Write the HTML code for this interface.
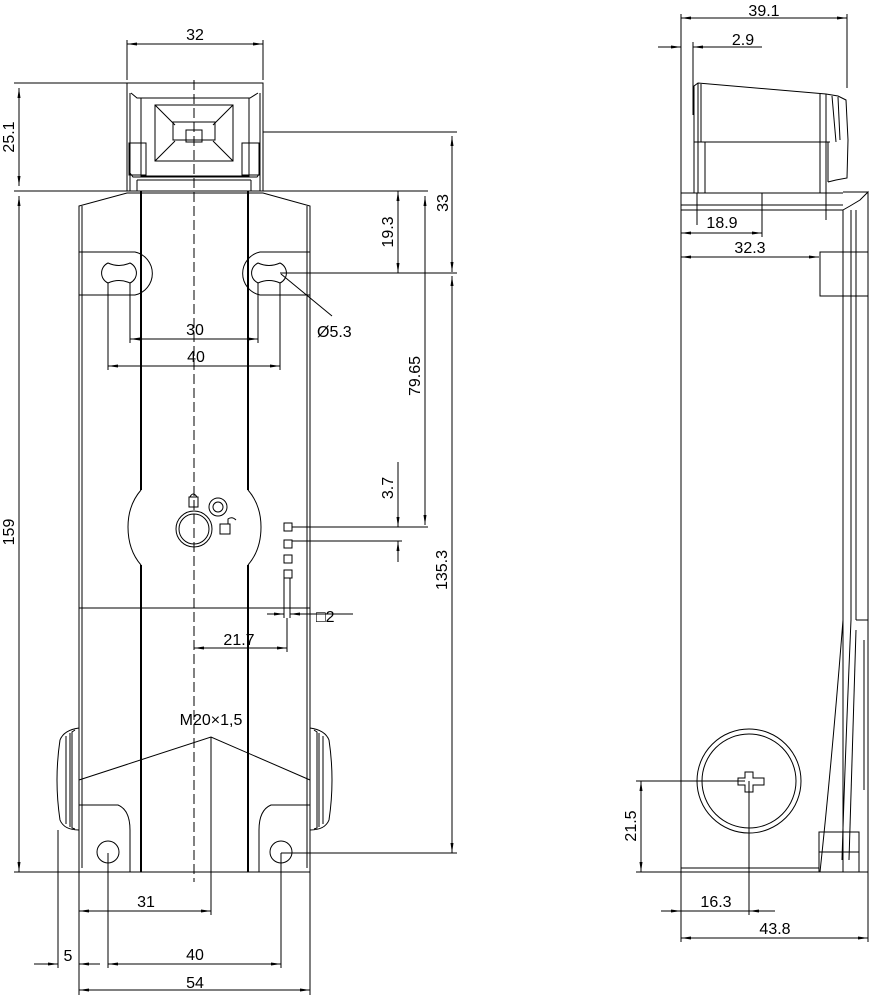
<!DOCTYPE html>
<html><head><meta charset="utf-8"><style>
html,body{margin:0;padding:0;background:#fff}
svg{display:block}
text{font-family:"Liberation Sans",sans-serif;font-size:16px;fill:#000}
</style></head><body>
<svg width="872" height="1000" viewBox="0 0 872 1000" xmlns="http://www.w3.org/2000/svg">
<defs>
<marker id="a" viewBox="0 0 10 4" refX="10" refY="2" markerWidth="10" markerHeight="4" orient="auto-start-reverse" markerUnits="userSpaceOnUse"><path d="M0,0.5L10,2L0,3.5z" fill="#000"/></marker>
</defs>
<g fill="none" stroke="#000" stroke-width="1">
<!-- LEFT VIEW -->
<rect x="127" y="83" width="136" height="108"/>
<line x1="130" y1="93" x2="130" y2="191"/><line x1="260" y1="93" x2="260" y2="191"/>
<path d="M131,93 L137,98 L250,98 L258,93"/>
<rect x="141" y="98" width="108" height="78"/>
<rect x="155" y="105" width="78" height="56"/>
<path d="M155,105 L175,125 M233,105 L213,125 M155,161 L175,141 M233,161 L213,141"/>
<path d="M173,122 L215,122 L215,140 L173,140 Z"/>
<rect x="186" y="130" width="16" height="12"/>
<rect x="129" y="143" width="17" height="32"/><rect x="242" y="143" width="17" height="32"/>
<path d="M130,173 L133,177 L257,177 L260,173"/>
<line x1="137" y1="180" x2="251" y2="180"/>
<line x1="137" y1="180" x2="137" y2="191"/><line x1="251" y1="180" x2="251" y2="191"/>
<!-- body -->
<path d="M79,872 L79,206 L127,193 L263,193 L310,206 L310,872 Z"/>
<line x1="82" y1="206" x2="82" y2="868"/><line x1="307" y1="206" x2="307" y2="868"/>
<line x1="141" y1="191" x2="141" y2="490" stroke-width="2"/><line x1="141" y1="565" x2="141" y2="872" stroke-width="2"/>
<line x1="248" y1="191" x2="248" y2="490" stroke-width="2"/><line x1="248" y1="565" x2="248" y2="872" stroke-width="2"/>
<path d="M141,490 Q128,505 128,527 Q128,550 141,565"/>
<path d="M248,490 Q261,505 261,527 Q261,550 248,565"/>
<path d="M79,252 L135,252 A22,22 0 0 1 135,295 L79,295"/>
<path d="M310,252 L260,252 A22,22 0 0 0 260,295 L310,295"/>
<path d="M108,263 A11,11 0 0 0 108,283 Q119,278 130,283 A11,11 0 0 0 130,263 Q119,268 108,263Z"/>
<path d="M258,263 A11,11 0 0 0 258,283 Q269,278 280,283 A11,11 0 0 0 280,263 Q269,268 258,263Z"/>
<line x1="79" y1="608" x2="310" y2="608"/>
<circle cx="194" cy="529" r="18"/><circle cx="194" cy="529" r="15"/>
<circle cx="218" cy="507" r="9"/><circle cx="218" cy="507" r="5"/>
<rect x="189" y="497" width="9" height="10"/><path d="M190,497 Q193,491 197,497"/>
<rect x="220" y="524" width="10" height="10"/><path d="M228,524 L228,519 Q232,516 236,520"/>
<rect x="284" y="523" width="8" height="8"/><rect x="284" y="540" width="8" height="8"/><rect x="284" y="555" width="8" height="8"/><rect x="284" y="570" width="8" height="8"/>
<line x1="284" y1="578" x2="284" y2="618"/><line x1="290" y1="578" x2="290" y2="618"/>
<path d="M79,728 Q64,730 60,740 Q54,780 60,820 Q64,830 79,830"/>
<path d="M75,730 L72,732 L72,828 L75,829 M70,733 L70,827 M66,736 L66,824"/>
<path d="M310,728 Q325,730 329,740 Q335,780 329,820 Q325,830 310,830"/>
<path d="M314,730 L317,732 L317,828 L314,829 M319,733 L319,827 M323,736 L323,824"/>
<path d="M79,805 L118,805 Q130,810 130,830 L130,872"/>
<path d="M310,805 L271,805 Q259,810 259,830 L259,872"/>
<circle cx="108" cy="852" r="11"/><circle cx="281" cy="852" r="11"/>
<line x1="194" y1="80" x2="194" y2="882" stroke-dasharray="10,4"/>
<path d="M79,780 L211,737 L310,780"/>
<!-- dims left -->
<line x1="127" y1="40" x2="127" y2="80"/><line x1="263" y1="40" x2="263" y2="80"/>
<line x1="127" y1="44" x2="263" y2="44" marker-start="url(#a)" marker-end="url(#a)"/>
<line x1="14" y1="83" x2="127" y2="83"/><line x1="14" y1="191" x2="127" y2="191"/>
<line x1="19" y1="88" x2="19" y2="186" marker-start="url(#a)" marker-end="url(#a)"/>
<line x1="19" y1="196" x2="19" y2="872" marker-start="url(#a)" marker-end="url(#a)"/>
<line x1="14" y1="872" x2="79" y2="872"/>
<line x1="263" y1="132" x2="457" y2="132"/>
<line x1="263" y1="191" x2="428" y2="191"/>
<line x1="280" y1="273" x2="457" y2="273"/>
<line x1="452" y1="136" x2="452" y2="272" marker-start="url(#a)" marker-end="url(#a)"/>
<line x1="452" y1="276" x2="452" y2="853" marker-start="url(#a)" marker-end="url(#a)"/>
<line x1="281" y1="853" x2="457" y2="853"/>
<line x1="398" y1="191" x2="398" y2="273" marker-start="url(#a)" marker-end="url(#a)"/>
<line x1="425" y1="196" x2="425" y2="525" marker-start="url(#a)" marker-end="url(#a)"/>
<line x1="292" y1="527" x2="428" y2="527"/><line x1="292" y1="541" x2="402" y2="541"/>
<line x1="398" y1="462" x2="398" y2="527" marker-end="url(#a)"/>
<line x1="398" y1="541" x2="398" y2="562" marker-start="url(#a)"/>
<line x1="130" y1="283" x2="130" y2="343"/><line x1="258" y1="283" x2="258" y2="343"/>
<line x1="108" y1="283" x2="108" y2="370"/><line x1="280" y1="283" x2="280" y2="370"/>
<line x1="130" y1="339" x2="258" y2="339" marker-start="url(#a)" marker-end="url(#a)"/>
<line x1="108" y1="366" x2="280" y2="366" marker-start="url(#a)" marker-end="url(#a)"/>
<line x1="281" y1="274" x2="332" y2="316"/>
<line x1="267" y1="614" x2="284" y2="614" marker-end="url(#a)"/>
<line x1="290" y1="614" x2="353" y2="614" marker-start="url(#a)"/>
<line x1="287" y1="618" x2="287" y2="652"/>
<line x1="194" y1="648" x2="287" y2="648" marker-start="url(#a)" marker-end="url(#a)"/>
<line x1="211" y1="737" x2="211" y2="915"/>
<line x1="79" y1="872" x2="79" y2="995"/><line x1="310" y1="872" x2="310" y2="995"/>
<line x1="58" y1="830" x2="58" y2="968"/>
<line x1="108" y1="853" x2="108" y2="968"/><line x1="281" y1="853" x2="281" y2="968"/>
<line x1="79" y1="911" x2="211" y2="911" marker-start="url(#a)" marker-end="url(#a)"/>
<line x1="34" y1="964" x2="58" y2="964" marker-end="url(#a)"/>
<line x1="79" y1="964" x2="100" y2="964" marker-start="url(#a)"/>
<line x1="108" y1="964" x2="281" y2="964" marker-start="url(#a)" marker-end="url(#a)"/>
<line x1="79" y1="990" x2="310" y2="990" marker-start="url(#a)" marker-end="url(#a)"/>

<!-- RIGHT VIEW -->
<line x1="681" y1="14" x2="681" y2="942"/>
<line x1="847" y1="14" x2="847" y2="88"/>
<line x1="681" y1="18" x2="847" y2="18" marker-start="url(#a)" marker-end="url(#a)"/>
<line x1="693" y1="42" x2="693" y2="115"/>
<line x1="658" y1="47" x2="681" y2="47" marker-end="url(#a)"/>
<line x1="693" y1="47" x2="762" y2="47" marker-start="url(#a)"/>
<path d="M694,193 L694,86 L698,83 L826,94 L838,96 L846,100 L848,140 L847,178 L836,180 L828,182"/>
<line x1="698" y1="83" x2="698" y2="193"/><line x1="701" y1="84" x2="701" y2="142"/>
<line x1="694" y1="142" x2="830" y2="142"/>
<line x1="705" y1="142" x2="705" y2="193"/>
<line x1="820" y1="94" x2="820" y2="193"/><line x1="826" y1="94" x2="826" y2="193"/>
<line x1="832" y1="96" x2="836" y2="142"/><line x1="838" y1="97" x2="840" y2="140"/>
<line x1="828" y1="142" x2="828" y2="182"/>
<line x1="681" y1="193" x2="843" y2="193"/>
<line x1="681" y1="205" x2="843" y2="205"/><line x1="681" y1="210" x2="843" y2="210"/>
<line x1="697" y1="193" x2="697" y2="225"/><line x1="826" y1="193" x2="826" y2="220"/>
<line x1="762" y1="193" x2="762" y2="237"/>
<line x1="681" y1="233" x2="762" y2="233" marker-start="url(#a)" marker-end="url(#a)"/>
<line x1="681" y1="257" x2="819" y2="257" marker-start="url(#a)" marker-end="url(#a)"/>
<path d="M843,872 L843,210 L850,206 L860,200 L868,192 L868,872"/>
<line x1="843" y1="192" x2="868" y2="192"/>
<line x1="851" y1="210" x2="851" y2="620"/><line x1="856" y1="210" x2="856" y2="620"/>
<rect x="820" y="252" width="48" height="44"/>
<line x1="856" y1="620" x2="868" y2="620"/>
<path d="M843,620 Q832,760 820,872"/>
<path d="M851,620 Q845,760 842,860"/><path d="M856,630 Q852,760 849,860"/>
<path d="M864,640 L864,790"/>
<rect x="819" y="832" width="40" height="40"/>
<line x1="819" y1="852" x2="859" y2="852"/>
<line x1="681" y1="872" x2="868" y2="872"/><line x1="681" y1="868" x2="819" y2="868"/>
<circle cx="749" cy="781" r="52"/><circle cx="749" cy="781" r="47"/>
<path d="M745,772 L753,772 L753,778 L764,778 L764,785 L753,785 L753,792 L745,792 L745,785 L738,785 L738,778 L745,778 Z"/>
<line x1="636" y1="781" x2="745" y2="781"/>
<line x1="749" y1="781" x2="749" y2="915"/>
<line x1="636" y1="872" x2="681" y2="872"/>
<line x1="641" y1="781" x2="641" y2="872" marker-start="url(#a)" marker-end="url(#a)"/>
<line x1="661" y1="911" x2="681" y2="911" marker-end="url(#a)"/>
<line x1="681" y1="911" x2="775" y2="911"/>
<line x1="755" y1="911" x2="749" y2="911" marker-end="url(#a)"/>
<line x1="868" y1="872" x2="868" y2="942"/>
<line x1="681" y1="938" x2="868" y2="938" marker-start="url(#a)" marker-end="url(#a)"/>
</g>
<text x="195" y="40" text-anchor="middle">32</text>
<text transform="translate(14,137) rotate(-90)" text-anchor="middle">25.1</text>
<text transform="translate(14,532) rotate(-90)" text-anchor="middle">159</text>
<text transform="translate(448,203) rotate(-90)" text-anchor="middle">33</text>
<text transform="translate(393,232) rotate(-90)" text-anchor="middle">19.3</text>
<text transform="translate(420,376) rotate(-90)" text-anchor="middle">79.65</text>
<text transform="translate(393,488) rotate(-90)" text-anchor="middle">3.7</text>
<text transform="translate(447,570) rotate(-90)" text-anchor="middle">135.3</text>
<text x="195" y="335" text-anchor="middle">30</text>
<text x="196" y="362" text-anchor="middle">40</text>
<text x="317" y="337">Ø5.3</text>
<text x="316" y="622">□2</text>
<text x="239" y="645" text-anchor="middle">21.7</text>
<text x="211" y="725" text-anchor="middle">M20×1,5</text>
<text x="146" y="907" text-anchor="middle">31</text>
<text x="68" y="961" text-anchor="middle">5</text>
<text x="195" y="960" text-anchor="middle">40</text>
<text x="195" y="988" text-anchor="middle">54</text>
<text x="764" y="16" text-anchor="middle">39.1</text>
<text x="743" y="45" text-anchor="middle">2.9</text>
<text x="722" y="228" text-anchor="middle">18.9</text>
<text x="750" y="253" text-anchor="middle">32.3</text>
<text transform="translate(636,826) rotate(-90)" text-anchor="middle">21.5</text>
<text x="716" y="907" text-anchor="middle">16.3</text>
<text x="775" y="934" text-anchor="middle">43.8</text>
</svg>
</body></html>
